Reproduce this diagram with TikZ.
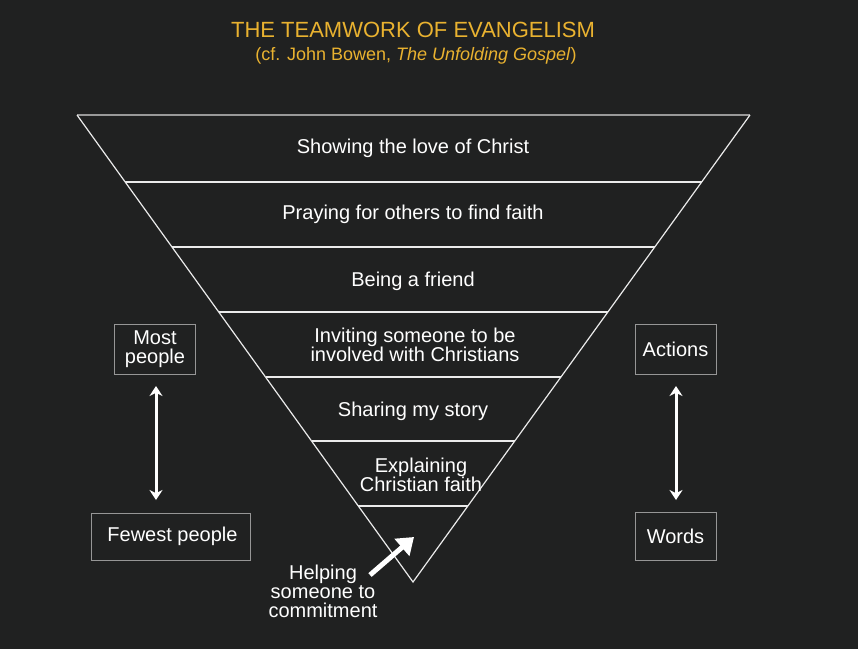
\documentclass[tikz,border=0pt]{standalone}
\usepackage{fontspec}
\setmainfont{Liberation Sans}
\usetikzlibrary{arrows.meta}
\definecolor{bg}{RGB}{32,33,33}
\definecolor{gold}{RGB}{233,178,48}
\definecolor{boxgray}{RGB}{150,150,150}
\begin{document}
\begin{tikzpicture}[x=1pt,y=-1pt,
  tier/.style={text=white,font=\fontsize{20}{18.5}\selectfont,align=center,inner sep=0pt},
  lbl/.style={draw=boxgray,line width=1pt,text=white,font=\fontsize{20}{18.5}\selectfont,align=center},
  tline/.style={draw=white!92!black,line width=1.2pt},
  dbl/.style={draw=white,line width=3pt,{Stealth[length=10pt,width=13pt]}-{Stealth[length=10pt,width=13pt]}}
]
\fill[bg] (0,0) rectangle (858,649);
\useasboundingbox (0,0) rectangle (858,649);
% title
\node[text=gold,font=\fontsize{22}{22}\selectfont,inner sep=0pt] (title) at (413,30) {THE TEAMWORK OF EVANGELISM};
\node[text=gold,font=\fontsize{18}{18}\selectfont,inner sep=0pt] (sub) at (416,56) {(cf. John Bowen, \textit{The Unfolding Gospel})};
% triangle
\coordinate (TL) at (77,115);
\coordinate (TR) at (750,115);
\coordinate (AP) at (413,582);
\draw[draw=gray!80!white,line width=1.2pt] (TL) -- (TR);
\draw[tline] (TL) -- (AP) -- (TR);
\foreach \y/\n in {182/1,247/2,312/3,377/4,441/5,506/6}{
  \pgfmathsetmacro{\xl}{77+(\y-115)*0.7195}
  \pgfmathsetmacro{\xr}{750-(\y-115)*0.7216}
  \coordinate (L\n) at (\xl,\y);
  \coordinate (R\n) at (\xr,\y);
  \draw[tline] (L\n) -- (R\n);
}
\node[tier] (t1) at (413,148) {Showing the love of Christ};
\node[tier] (t2) at (413,214) {Praying for others to find faith};
\node[tier] (t3) at (413,281) {Being a friend};
\node[tier] (t4) at (415,345) {Inviting someone to be\\involved with Christians};
\node[tier] (t5) at (413,411) {Sharing my story};
\node[tier] (t6) at (421,475) {Explaining\\Christian faith};
\node[tier,font=\fontsize{20}{19}\selectfont] (t7) at (323,591) {Helping\\someone to\\commitment};
\coordinate (arrtip) at (414,537);
\draw[white,line width=5pt,-{Triangle[length=16pt,width=22pt]}] (370,575) -- (arrtip);
% side labels
\node[lbl,minimum width=81pt,minimum height=50pt,inner sep=2pt] (most) at (155,349) {Most\\people};
\node[lbl,minimum width=159pt,minimum height=47pt] (fewest) at (170.5,536.5) {\hspace{4pt}Fewest people};
\node[lbl,minimum width=81pt,minimum height=50pt] (act) at (675.5,349) {Actions};
\node[lbl,minimum width=81pt,minimum height=48pt] (words) at (675.5,536) {Words};
\coordinate (la) at (156,386);
\coordinate (lb) at (156,500);
\coordinate (ra) at (676,386);
\coordinate (rb) at (676,500);
\draw[dbl] (la) -- (lb);
\draw[dbl] (ra) -- (rb);
\end{tikzpicture}
\end{document}
